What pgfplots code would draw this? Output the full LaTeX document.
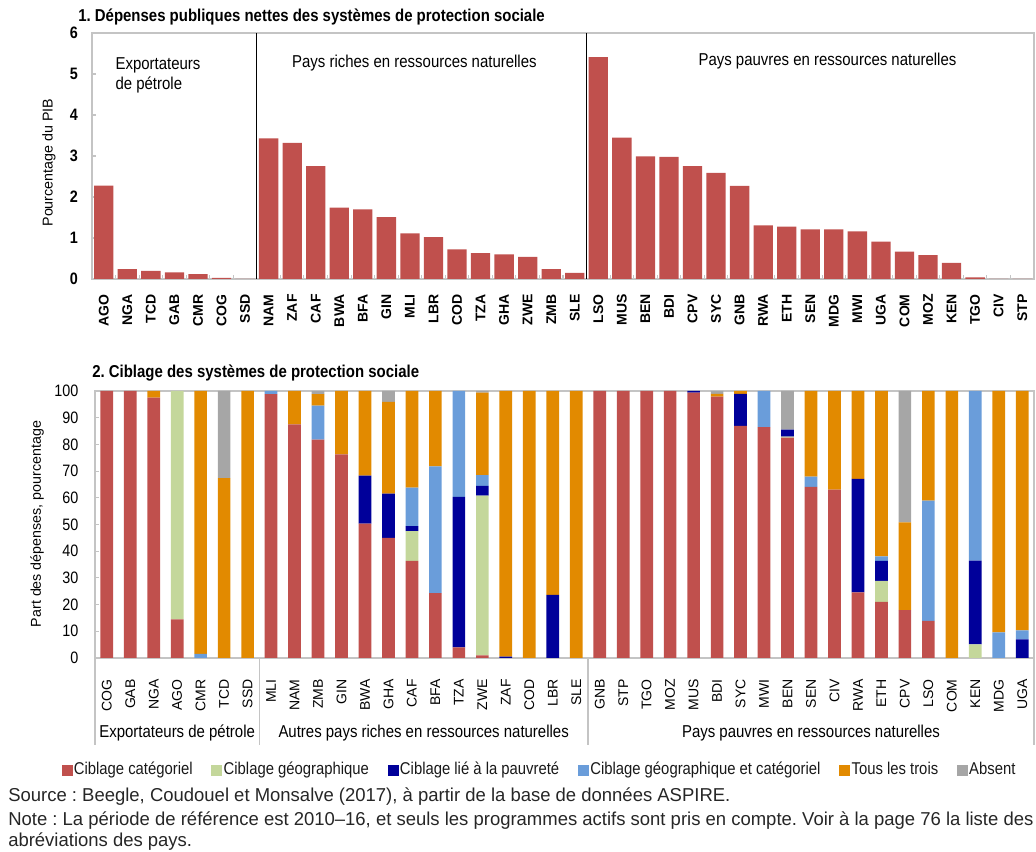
\documentclass[border=0pt]{standalone}
\usepackage{pgfplots}
\pgfplotsset{compat=1.18}
\usepackage{pgfplotstable}
\usepackage{fontspec}
\setmainfont{Liberation Sans}
\newfontfamily\narrow[FakeStretch=0.87]{Liberation Sans}
\newfontfamily\notefont[FakeStretch=0.99]{Liberation Sans}
\frenchspacing

\definecolor{cat}{HTML}{C0504D}
\definecolor{geo}{HTML}{C4D79B}
\definecolor{pov}{HTML}{00009A}
\definecolor{geocat}{HTML}{6A9DDA}
\definecolor{trois}{HTML}{E28A00}
\definecolor{absent}{HTML}{A6A6A6}
\definecolor{framegray}{HTML}{C4C4C4}

% part des depenses (%), par type de ciblage
\pgfplotstableread{
x  cat   geo   pov   gc    all    abs
0  100   0     0     0     0      0
1  100   0     0     0     0      0
2  97.5  0     0     0     2.5    0
3  14.5  85.5  0     0     0      0
4  0     0     0     1.5   98.5   0
5  0     0     0     0     67.4   32.6
6  0     0     0     0     100    0
7  98.8  0     0     1.2   0      0
8  87.5  0     0     0     12.5   0
9  81.8  0     0     12.7  4.3    1.2
10 76.3  0     0     0     23.7   0
11 50.3  0     18.0  0     31.7   0
12 45.0  0     16.6  0     34.3   4.1
13 36.4  11.1  1.9   14.4  36.2   0
14 24.3  0     0     47.5  28.2   0
15 4.0   0     56.3  39.7  0      0
16 1.0   59.8  3.7   4.0   30.9   0.6
17 0     0     0.5   0     99.5   0
18 0     0     0     0     100    0
19 0     0     23.6  0     76.4   0
20 0     0     0     0     100    0
21 100   0     0     0     0      0
22 100   0     0     0     0      0
23 100   0     0     0     0      0
24 100   0     0     0     0      0
25 99.4  0     0.6   0     0      0
26 97.9  0     0     0     1.0    1.1
27 86.9  0     12.0  0     1.1    0
28 86.5  0     0     13.5  0      0
29 82.5  0.4   2.6   0     0      14.5
30 64.1  0     0     3.8   32.1   0
31 63.1  0     0     0     36.9   0
32 24.6  0     42.5  0     32.9   0
33 21.0  7.9   7.5   1.7   61.9   0
34 17.9  0     0     0     32.9   49.2
35 13.9  0     0     45.0  41.1   0
36 0     0     0     0     100    0
37 0     5.1   31.4  63.5  0      0
38 0     0     0     9.6   90.4   0
39 0     0     7.0   3.3   89.7   0
}\ciblage

\begin{document}
\begin{tikzpicture}
\useasboundingbox (0,0) rectangle (777pt,639pt);

% ---------- panel 1 ----------
\node[anchor=west, inner sep=0pt, font=\narrow\bfseries\fontsize{12.9}{14}\selectfont] at (58.5pt,626.25pt)
  {1. Dépenses publiques nettes des systèmes de protection sociale};
\node[rotate=90, font=\fontsize{10.7}{12}\selectfont] at (36.75pt,517pt) {Pourcentage du PIB};

\begin{axis}[
  at={(69pt,429.75pt)}, anchor=south west,
  scale only axis, width=706.5pt, height=184.5pt,
  xmin=-0.5, xmax=39.5, ymin=0, ymax=6,
  ybar, bar width=0.82,
  axis line style={framegray, line width=1.2pt},
  ytick={0,1,...,6},
  xtick={0,1,...,39},
  xticklabels={AGO,NGA,TCD,GAB,CMR,COG,SSD,NAM,ZAF,CAF,BWA,BFA,GIN,MLI,LBR,COD,TZA,GHA,ZWE,ZMB,SLE,LSO,MUS,BEN,BDI,CPV,SYC,GNB,RWA,ETH,SEN,MDG,MWI,UGA,COM,MOZ,KEN,TGO,CIV,STP},
  minor xtick={0.5,1.5,...,38.5},
  tick align=inside,
  xtick pos=bottom, ytick pos=left,
  major x tick style={draw=none},
  minor x tick style={framegray, line width=0.8pt},
  minor tick length=3pt, major tick length=3pt,
  y tick style={framegray, line width=0.8pt},
  /pgf/number format/assume math mode=true,
  xticklabel style={rotate=90, anchor=east, font=\bfseries\fontsize{10.5}{12}\selectfont},
  xticklabel shift=8pt,
  yticklabel style={font=\narrow\bfseries\fontsize{12.4}{14}\selectfont},
  yticklabel shift=7pt,
  clip=false,
]
\addplot[fill=cat, draw=none] coordinates {
  (0,2.28) (1,0.24) (2,0.20) (3,0.16) (4,0.12) (5,0.03) (6,0)
  (7,3.43) (8,3.32) (9,2.75) (10,1.74) (11,1.70) (12,1.51) (13,1.11)
  (14,1.02) (15,0.72) (16,0.63) (17,0.60) (18,0.54) (19,0.24) (20,0.15)
  (21,5.41) (22,3.45) (23,2.99) (24,2.98) (25,2.75) (26,2.59) (27,2.27)
  (28,1.31) (29,1.28) (30,1.21) (31,1.21) (32,1.16) (33,0.91) (34,0.67)
  (35,0.58) (36,0.39) (37,0.04) (38,0) (39,0)
};
\draw[black, line width=0.6pt] (axis cs:6.5,0) -- (axis cs:6.5,6);
\draw[black, line width=0.6pt] (axis cs:20.5,0) -- (axis cs:20.5,6);
\node[anchor=base west, font=\narrow\fontsize{12.9}{14}\selectfont] at (axis cs:0.3,5.11) {Exportateurs};
\node[anchor=base west, font=\narrow\fontsize{12.9}{14}\selectfont] at (axis cs:0.3,4.61) {de pétrole};
\node[anchor=base, font=\narrow\fontsize{12.9}{14}\selectfont] at (axis cs:13.19,5.15) {Pays riches en ressources naturelles};
\node[anchor=base, font=\narrow\fontsize{12.9}{14}\selectfont] at (axis cs:30.73,5.2) {Pays pauvres en ressources naturelles};
\end{axis}

% ---------- panel 2 ----------
\node[anchor=west, inner sep=0pt, font=\narrow\bfseries\fontsize{12.9}{14}\selectfont] at (69pt,359.25pt)
  {2. Ciblage des systèmes de protection sociale};
\node[rotate=90, font=\fontsize{10.7}{12}\selectfont] at (27.75pt,246pt) {Part des dépenses, pourcentage};

\begin{axis}[
  at={(71.25pt,145.5pt)}, anchor=south west,
  scale only axis, width=704.25pt, height=200.25pt,
  xmin=-0.5, xmax=39.5, ymin=0, ymax=100,
  ybar stacked, bar width=0.54,
  axis line style={framegray, line width=1.2pt},
  ytick={0,10,...,100},
  xtick={0,1,...,39},
  xticklabels={COG,GAB,NGA,AGO,CMR,TCD,SSD,MLI,NAM,ZMB,GIN,BWA,GHA,CAF,BFA,TZA,ZWE,ZAF,COD,LBR,SLE,GNB,STP,TGO,MOZ,MUS,BDI,SYC,MWI,BEN,SEN,CIV,RWA,ETH,CPV,LSO,COM,KEN,MDG,UGA},
  xtick style={draw=none},
  ytick pos=left, tick align=inside,
  major tick length=3pt,
  y tick style={framegray, line width=0.8pt},
  /pgf/number format/assume math mode=true,
  xticklabel style={rotate=90, anchor=east, font=\fontsize{10.5}{12}\selectfont},
  xticklabel shift=12.5pt,
  yticklabel style={font=\narrow\fontsize{12.4}{14}\selectfont},
  yticklabel shift=9pt,
  clip=false,
  legend columns=6,
  legend image code/.code={\fill[#1] (0pt,-5pt) rectangle (8.25pt,3.25pt);},
  legend style={at={(0.473,-0.416)}, anchor=center, draw=none, fill=none,
    font=\narrow\fontsize{12.8}{14}\selectfont, text=black!90,
    nodes={inner xsep=1pt},
    /tikz/every even column/.append style={column sep=13pt},
    /tikz/every odd column/.append style={column sep=0pt}},
]
\addplot[fill=cat, draw=none] table[x=x, y=cat] {\ciblage};
\addlegendentry{Ciblage catégoriel}
\addplot[fill=geo, draw=none] table[x=x, y=geo] {\ciblage};
\addlegendentry{Ciblage géographique}
\addplot[fill=pov, draw=none] table[x=x, y=pov] {\ciblage};
\addlegendentry{Ciblage lié à la pauvreté}
\addplot[fill=geocat, draw=none] table[x=x, y=gc] {\ciblage};
\addlegendentry{Ciblage géographique et catégoriel}
\addplot[fill=trois, draw=none] table[x=x, y=all] {\ciblage};
\addlegendentry{Tous les trois}
\addplot[fill=absent, draw=none] table[x=x, y=abs] {\ciblage};
\addlegendentry{Absent}

\draw[framegray, line width=1.2pt] (axis cs:-0.5,0) -- ([yshift=-65.25pt]axis cs:-0.5,0);
\draw[framegray, line width=1.2pt] (axis cs:6.5,0) -- ([yshift=-65.25pt]axis cs:6.5,0);
\draw[framegray, line width=1.2pt] (axis cs:20.5,0) -- ([yshift=-65.25pt]axis cs:20.5,0);
\draw[framegray, line width=1.2pt] (axis cs:39.5,0) -- ([yshift=-65.25pt]axis cs:39.5,0);
\node[anchor=base, font=\narrow\fontsize{12.9}{14}\selectfont, yshift=-60pt] at (axis cs:3,0) {Exportateurs de pétrole};
\node[anchor=base, font=\narrow\fontsize{12.9}{14}\selectfont, yshift=-60pt] at (axis cs:13.5,0) {Autres pays riches en ressources naturelles};
\node[anchor=base, font=\narrow\fontsize{12.9}{14}\selectfont, yshift=-60pt] at (axis cs:30,0) {Pays pauvres en ressources naturelles};
\end{axis}

% ---------- notes ----------
\begin{scope}[every node/.style={anchor=west, inner sep=0pt, font=\notefont\fontsize{14}{16}\selectfont, text=black!85}]
\node at (6pt,41.25pt) {Source : Beegle, Coudouel et Monsalve (2017), à partir de la base de données ASPIRE.};
\node at (6pt,23.5pt) {Note : La période de référence est 2010–16, et seuls les programmes actifs sont pris en compte. Voir à la page 76 la liste des};
\node at (6pt,8pt) {abréviations des pays.};
\end{scope}
\end{tikzpicture}
\end{document}
